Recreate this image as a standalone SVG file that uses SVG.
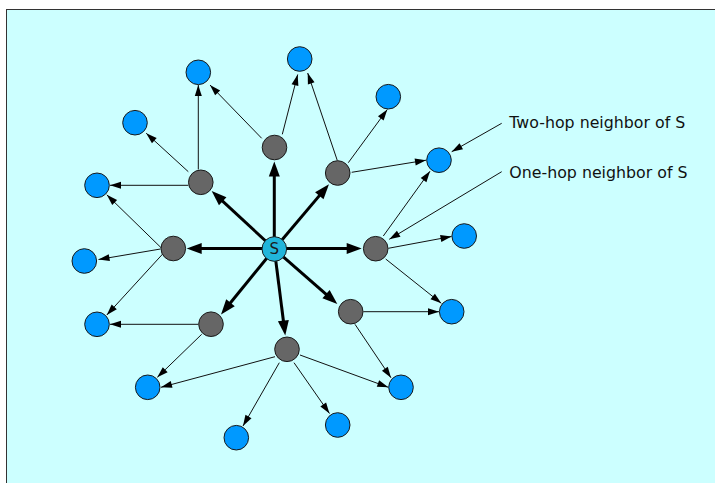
<svg xmlns="http://www.w3.org/2000/svg" width="715" height="483" viewBox="0 0 715 483">
  <style>
    .bg { fill: #ccffff; stroke: #333333; stroke-width: 1; }
    .thin { stroke: #111111; stroke-width: 1; fill: none; marker-end: url(#arrow-thin); }
    .thick { stroke: #000000; stroke-width: 3; fill: none; marker-end: url(#arrow-thick); }
    .src { fill: #21b5da; stroke: #1a1a1a; stroke-width: 1; }
    .hop1 { fill: #666666; stroke: #1a1a1a; stroke-width: 1; }
    .hop2 { fill: #0099ff; stroke: #1a1a1a; stroke-width: 1; }
    .label { font-family: "DejaVu Sans", Verdana, sans-serif; font-size: 15.8px; fill: #111111; }
    .src-label { font-family: "DejaVu Sans", Verdana, sans-serif; font-size: 15px; fill: #1a1a1a; text-anchor: middle; }
  </style>
  <defs>
    <marker id="arrow-thin" markerUnits="userSpaceOnUse" markerWidth="11" markerHeight="7" refX="11" refY="3.5" orient="auto" overflow="visible">
      <path d="M0,0 L11,3.5 L0,7 z" fill="#000000"/>
    </marker>
    <marker id="arrow-thick" markerUnits="userSpaceOnUse" markerWidth="15" markerHeight="11" refX="9" refY="5.5" orient="auto" overflow="visible">
      <path d="M0,0 L15,5.5 L0,11 z" fill="#000000"/>
    </marker>
  </defs>

  <rect class="bg" x="6.5" y="9.5" width="720" height="480"/>

  <g id="connectors">
    <!-- source to one-hop neighbours -->
    <line class="thick" x1="274.3" y1="249" x2="274.3" y2="167.5"/>
    <line class="thick" x1="274.3" y1="249" x2="325.1" y2="188.9"/>
    <line class="thick" x1="274.3" y1="249" x2="216.1" y2="195.1"/>
    <line class="thick" x1="274.3" y1="248.6" x2="192.7" y2="248.6"/>
    <line class="thick" x1="274.3" y1="248.6" x2="355.7" y2="248.6"/>
    <line class="thick" x1="274.3" y1="249" x2="224.8" y2="309.8"/>
    <line class="thick" x1="274.3" y1="249" x2="332.8" y2="300.1"/>
    <line class="thick" x1="274.3" y1="249" x2="284.5" y2="329.5"/>

    <!-- one-hop to two-hop neighbours -->
    <line class="thin" x1="198.3" y1="169.5" x2="198.3" y2="85"/>
    <line class="thin" x1="188.3" y1="171.7" x2="146.2" y2="133.2"/>
    <line class="thin" x1="188.3" y1="185.3" x2="110" y2="185.3"/>
    <line class="thin" x1="261.7" y1="138.3" x2="210" y2="85"/>
    <line class="thin" x1="282.3" y1="134.3" x2="297.7" y2="74.5"/>
    <line class="thin" x1="337.3" y1="160.5" x2="307.7" y2="73"/>
    <line class="thin" x1="348.3" y1="162.7" x2="387.3" y2="109.5"/>
    <line class="thin" x1="351.7" y1="172.3" x2="426" y2="160.2"/>
    <line class="thin" x1="161.7" y1="248.3" x2="106.8" y2="194.8"/>
    <line class="thin" x1="160.5" y1="249" x2="98.5" y2="259.5"/>
    <line class="thin" x1="163.3" y1="253.3" x2="106.8" y2="315"/>
    <line class="thin" x1="383.3" y1="236" x2="430" y2="171.2"/>
    <line class="thin" x1="388.3" y1="248.3" x2="451.5" y2="236.5"/>
    <line class="thin" x1="385.7" y1="259" x2="441.3" y2="303.3"/>
    <line class="thin" x1="198.3" y1="324.3" x2="110" y2="324.3"/>
    <line class="thin" x1="201.7" y1="334.3" x2="157.3" y2="377.3"/>
    <line class="thin" x1="363.3" y1="311.7" x2="439" y2="311.7"/>
    <line class="thin" x1="355" y1="324.3" x2="391" y2="377.8"/>
    <line class="thin" x1="275" y1="356.7" x2="161" y2="387.3"/>
    <line class="thin" x1="279.3" y1="362.7" x2="243" y2="426"/>
    <line class="thin" x1="294" y1="362.7" x2="329.5" y2="413.5"/>
    <line class="thin" x1="300" y1="355" x2="388.3" y2="387.3"/>
  </g>

  <g id="callouts">
    <line class="thin" x1="501.7" y1="123.3" x2="451.7" y2="151.7"/>
    <line class="thin" x1="501.7" y1="171.7" x2="389.3" y2="239.3"/>
    <text class="label" x="509.3" y="128.3">Two-hop neighbor of S</text>
    <text class="label" x="509.3" y="178.3">One-hop neighbor of S</text>
  </g>

  <!-- one-hop neighbours -->
  <g id="n1"><circle class="hop1" cx="274.5" cy="147.5" r="12.3"/></g>
  <g id="n2"><circle class="hop1" cx="337.7" cy="173" r="12.3"/></g>
  <g id="n3"><circle class="hop1" cx="200.8" cy="182.3" r="12.3"/></g>
  <g id="n4"><circle class="hop1" cx="173.3" cy="248.5" r="12.3"/></g>
  <g id="n5"><circle class="hop1" cx="375.7" cy="248.7" r="12.3"/></g>
  <g id="n6"><circle class="hop1" cx="211" cy="324.2" r="12.3"/></g>
  <g id="n7"><circle class="hop1" cx="350.7" cy="311.7" r="12.3"/></g>
  <g id="n8"><circle class="hop1" cx="287" cy="349.3" r="12.3"/></g>

  <!-- two-hop neighbours -->
  <g id="m1"><circle class="hop2" cx="299.7" cy="59" r="12.3"/></g>
  <g id="m2"><circle class="hop2" cx="198.3" cy="72.3" r="12.3"/></g>
  <g id="m3"><circle class="hop2" cx="388.3" cy="96.7" r="12.3"/></g>
  <g id="m4"><circle class="hop2" cx="135" cy="122.7" r="12.3"/></g>
  <g id="m5"><circle class="hop2" cx="439" cy="160.2" r="12.3"/></g>
  <g id="m6"><circle class="hop2" cx="97" cy="185.3" r="12.3"/></g>
  <g id="m7"><circle class="hop2" cx="84.3" cy="261" r="12.3"/></g>
  <g id="m8"><circle class="hop2" cx="464.2" cy="236" r="12.3"/></g>
  <g id="m9"><circle class="hop2" cx="97" cy="324.3" r="12.3"/></g>
  <g id="m10"><circle class="hop2" cx="451.7" cy="311.7" r="12.3"/></g>
  <g id="m11"><circle class="hop2" cx="147.7" cy="387.3" r="12.3"/></g>
  <g id="m12"><circle class="hop2" cx="401" cy="387.3" r="12.3"/></g>
  <g id="m13"><circle class="hop2" cx="236.3" cy="437.7" r="12.3"/></g>
  <g id="m14"><circle class="hop2" cx="337.7" cy="425" r="12.3"/></g>

  <!-- source node -->
  <g id="S">
    <circle class="src" cx="274.3" cy="249" r="12.3"/>
    <text class="src-label" x="274.3" y="254.3">S</text>
  </g>
</svg>
